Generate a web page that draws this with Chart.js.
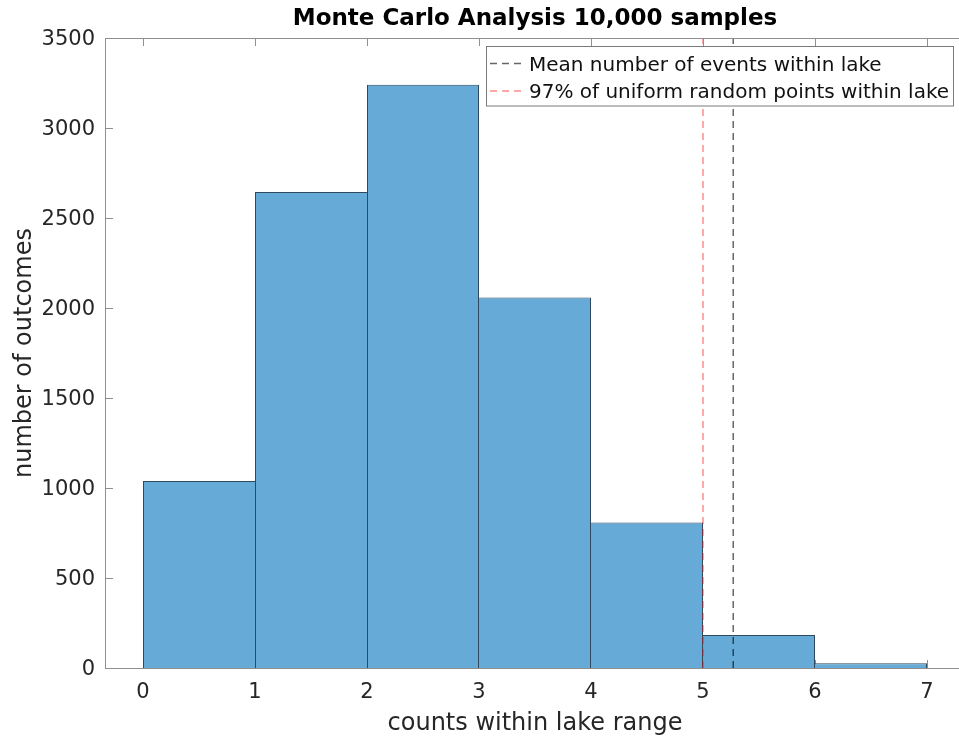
<!DOCTYPE html>
<html>
<head>
<meta charset="utf-8">
<title>Monte Carlo Analysis</title>
<script src="https://cdn.jsdelivr.net/npm/chart.js@4.4.1/dist/chart.umd.min.js"></script>
<style>
  html, body { margin: 0; padding: 0; background: #fff; }
  /* the axes run a little past the right edge, so the canvas is clipped */
  #frame { width: 959px; height: 740px; overflow: hidden; }
  #wrap { width: 965px; height: 740px; position: relative; }
</style>
</head>
<body>
<div id="frame"><div id="wrap"><canvas id="histChart"></canvas></div></div>
<script>
// Histogram of lake counts over 10,000 Monte Carlo runs

const binCenters = [0.5, 1.5, 2.5, 3.5, 4.5, 5.5, 6.5];   // one-wide bins 0-1 ... 6-7
const binCounts  = [1039, 2645, 3240, 2058, 809, 183, 26];
const xTicks = [0, 1, 2, 3, 4, 5, 6, 7];
const yTicks = [0, 500, 1000, 1500, 2000, 2500, 3000, 3500];
const meanEvents = 5.27;     // mean number of events within lake
const uniform97 = 5;         // 97% of uniform random points within lake
const xMin = -0.3393, xMax = 7.3393;
const yTop = 3500;

const FONT = 'DejaVu Sans';
const AXIS_GREY = '#8f8f8f';
const TEXT = '#262626';

// draw shared bin edges once (by the taller neighbour)
function edgeWidths(ctx) {
  const i = ctx.dataIndex, h = binCounts;
  return {
    left: (i === 0 || h[i] >= h[i - 1]) ? 1 : 0,
    right: (i === h.length - 1 || h[i] > h[i + 1]) ? 1 : 0,
    top: 1,
    bottom: 0
  };
}

// MATLAB-style box: axis lines on left/bottom/top, ticks pointing inward
const axisFrame = {
  id: 'axisFrame',
  beforeDatasetsDraw(chart) {
    // bottom ticks sit behind the bars
    const {ctx, chartArea: a, scales: {x}} = chart;
    ctx.save();
    ctx.strokeStyle = AXIS_GREY;
    ctx.lineWidth = 1;
    ctx.beginPath();
    xTicks.forEach(v => {
      const px = Math.round(x.getPixelForValue(v)) + 0.5;
      ctx.moveTo(px, a.bottom);
      ctx.lineTo(px, a.bottom - 8);
    });
    ctx.stroke();
    ctx.restore();
  },
  afterDatasetsDraw(chart) {
    const {ctx, chartArea: a, scales: {x, y}} = chart;
    ctx.save();
    ctx.strokeStyle = AXIS_GREY;
    ctx.lineWidth = 1;
    ctx.beginPath();
    ctx.moveTo(a.left + 0.5, a.top);
    ctx.lineTo(a.left + 0.5, a.bottom);
    ctx.moveTo(a.left, a.bottom + 0.5);
    ctx.lineTo(a.right, a.bottom + 0.5);
    ctx.moveTo(a.left, a.top + 0.5);
    ctx.lineTo(a.right, a.top + 0.5);
    xTicks.forEach(v => {
      const px = Math.round(x.getPixelForValue(v)) + 0.5;
      ctx.moveTo(px, a.top);
      ctx.lineTo(px, a.top + 8);
    });
    yTicks.forEach(v => {
      const py = Math.round(y.getPixelForValue(v)) + 0.5;
      ctx.moveTo(a.left, py);
      ctx.lineTo(a.left + 8, py);
    });
    ctx.stroke();
    ctx.restore();
  }
};

// boxed legend for the two reference lines, top right inside the axes
const boxLegend = {
  id: 'boxLegend',
  afterDraw(chart) {
    const {ctx} = chart;
    const items = chart.data.datasets.filter(d => d.type === 'line');
    const x0 = 486.5, y0 = 46.5, w = 467, rowH = 27.6;
    ctx.save();
    ctx.fillStyle = '#fff';
    ctx.strokeStyle = '#7a7a7a';
    ctx.lineWidth = 1;
    ctx.fillRect(x0, y0, w, 59.5);
    ctx.strokeRect(x0, y0, w, 59.5);
    ctx.font = '20px "' + FONT + '"';
    ctx.textBaseline = 'alphabetic';
    items.forEach((d, i) => {
      const cy = 63.5 + i * rowH;
      ctx.strokeStyle = d.borderColor;
      ctx.lineWidth = d.borderWidth;
      ctx.setLineDash(d.borderDash);
      ctx.beginPath();
      ctx.moveTo(490, cy);
      ctx.lineTo(521, cy);
      ctx.stroke();
      ctx.setLineDash([]);
      ctx.fillStyle = '#111';
      ctx.fillText(d.label, 529, 70.7 + i * rowH);
    });
    ctx.restore();
  }
};

new Chart(document.getElementById('histChart'), {
  type: 'bar',
  data: {
    datasets: [
      {
        type: 'line',
        label: 'Mean number of events within lake',
        data: [{x: meanEvents, y: 0}, {x: meanEvents, y: yTop}],
        borderColor: 'rgba(0, 0, 0, 0.6)',
        borderWidth: 1.5,
        borderDash: [7, 5],
        pointRadius: 0,
        order: 0
      },
      {
        type: 'line',
        label: '97% of uniform random points within lake',
        data: [{x: uniform97, y: 0}, {x: uniform97, y: yTop}],
        borderColor: 'rgba(255, 0, 0, 0.45)',
        borderWidth: 1.5,
        borderDash: [7, 5],
        pointRadius: 0,
        order: 1
      },
      {
        label: 'counts',
        data: binCenters.map((c, i) => ({x: c, y: binCounts[i]})),
        backgroundColor: 'rgb(102, 170, 215)',
        borderColor: '#30495c',
        borderWidth: edgeWidths,
        borderSkipped: false,
        inflateAmount: 0,
        barPercentage: 1,
        categoryPercentage: 1,
        order: 2
      }
    ]
  },
  options: {
    responsive: true,
    maintainAspectRatio: false,
    animation: false,
    layout: { padding: 0 },
    scales: {
      x: {
        type: 'linear',
        offset: false,
        min: xMin,
        max: xMax,
        afterBuildTicks: s => { s.ticks = xTicks.map(v => ({value: v})); },
        afterFit: s => { s.height = 72; },
        grid: { display: false, drawTicks: false, offset: false },
        border: { display: false },
        ticks: {
          padding: 12,
          color: TEXT,
          font: { family: FONT, size: 21 },
          callback: v => String(v)
        },
        title: {
          display: true,
          text: 'counts within lake range',
          color: TEXT,
          font: { family: FONT, size: 24 },
          padding: { top: 0, bottom: 2.2 }
        }
      },
      y: {
        min: 0,
        max: yTop,
        afterBuildTicks: s => { s.ticks = yTicks.map(v => ({value: v})); },
        afterFit: s => { s.width = 105; },
        grid: { display: false, drawTicks: false },
        border: { display: false },
        ticks: {
          padding: 10,
          labelOffset: 1.5,
          color: TEXT,
          font: { family: FONT, size: 21 },
          callback: v => String(v)
        },
        title: {
          display: true,
          text: 'number of outcomes',
          color: TEXT,
          font: { family: FONT, size: 24 },
          padding: { top: 10.3, bottom: 0 }
        }
      }
    },
    plugins: {
      legend: { display: false },
      tooltip: { enabled: false },
      title: {
        display: true,
        fullSize: false,
        text: 'Monte Carlo Analysis 10,000 samples',
        color: '#000',
        font: { family: FONT, size: 23, weight: 'bold' },
        padding: { top: 5.2, bottom: 5.2 }
      }
    }
  },
  plugins: [axisFrame, boxLegend]
});
</script>
</body>
</html>
